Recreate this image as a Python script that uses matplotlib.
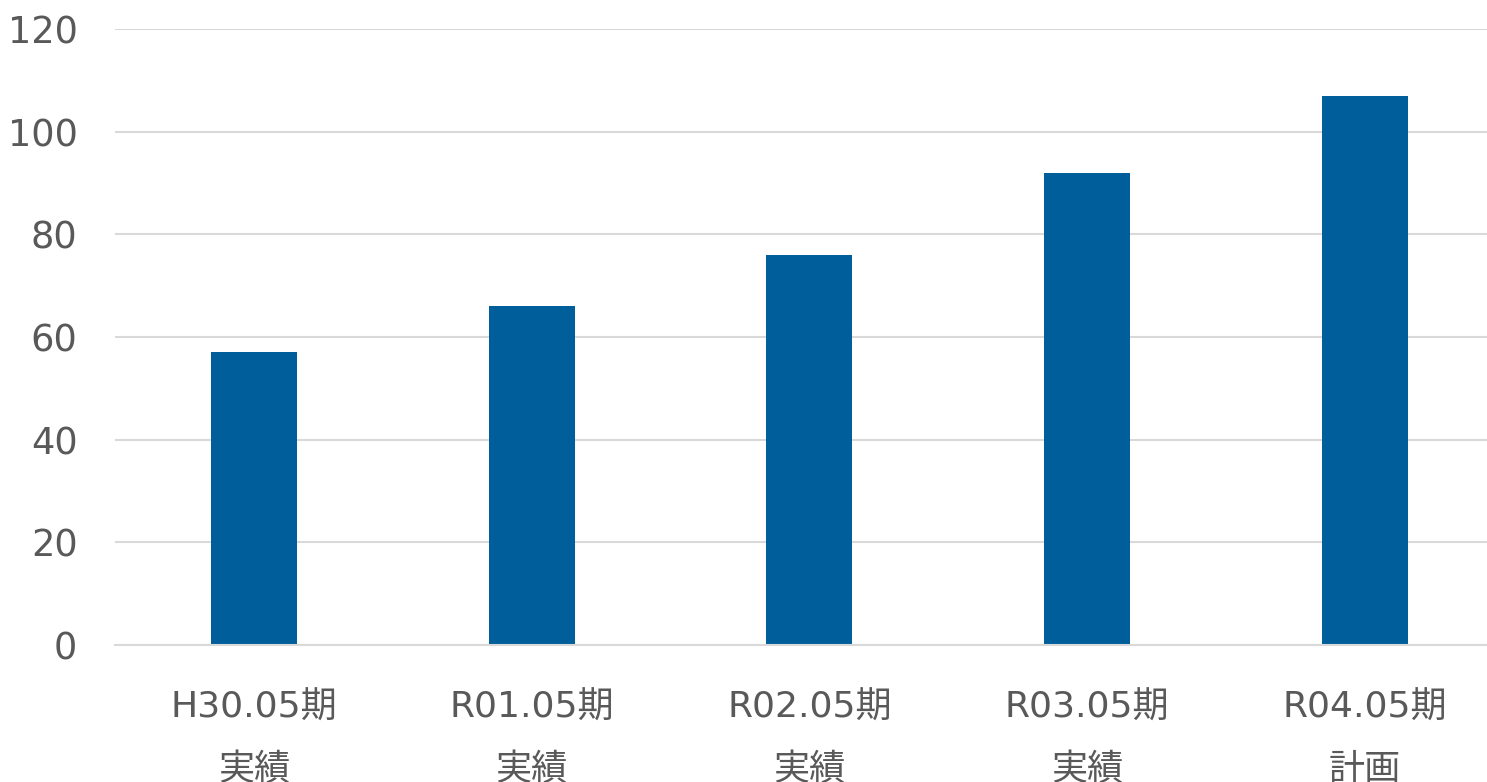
import matplotlib
matplotlib.use("Agg")
import matplotlib.pyplot as plt

plt.rcParams['font.family'] = ['DejaVu Sans', 'Noto Sans CJK JP']

periods = ["H30.05期", "R01.05期", "R02.05期", "R03.05期", "R04.05期"]
kinds = ["実績", "実績", "実績", "実績", "計画"]
values = [57, 66, 76, 92, 107]
yticks = [0, 20, 40, 60, 80, 100, 120]

W, H = 1487, 782
fig = plt.figure(figsize=(W / 100, H / 100), dpi=100)
# axes in pixel coords: left 115, right 1487, y0 at 645, y120 at 29
ax = fig.add_axes([115 / W, 1 - 645 / H, (1487 - 115) / W, (645 - 29) / H])

x = list(range(len(values)))
ax.bar(x, values, width=0.31, color="#005E9A", zorder=3)

ax.set_xlim(-0.5, 4.44)
ax.set_ylim(0, 120)
ax.set_yticks(yticks)
ax.yaxis.grid(True, color="#D9D9D9", linewidth=1.5, zorder=0)
for s in ["top", "right", "left"]:
    ax.spines[s].set_visible(False)
ax.spines["bottom"].set_color("#D9D9D9")
ax.spines["bottom"].set_linewidth(1.5)
ax.spines["bottom"].set_zorder(4)

ax.set_xticks(x)
ax.set_xticklabels([p + "\n" + k for p, k in zip(periods, kinds)], linespacing=2.05)
ax.tick_params(axis="both", length=0, labelcolor="#595959")
ax.tick_params(axis="x", labelsize=26, pad=33)
ax.tick_params(axis="y", labelsize=26.5, pad=27)

fig.savefig("out.png", dpi=100)
